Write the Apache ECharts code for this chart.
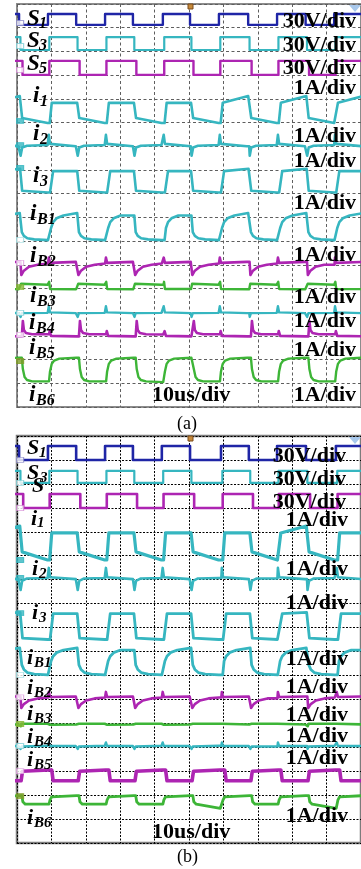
<!DOCTYPE html>
<html>
<head>
<meta charset="utf-8">
<script src="https://cdn.jsdelivr.net/npm/echarts@6/dist/echarts.min.js"></script>
<style>
  html, body { margin: 0; padding: 0; background: #fff; }
  #chart { width: 361px; height: 869px; }
</style>
</head>
<body>
<div id="chart"></div>
<script>
// time in us (10us/div), level in divisions from bottom of each screen (17 div)
const edgesA = [-7.7, 0.6, 9.0, 17.2, 25.6, 33.7, 42.4, 50.3, 58.7, 67.2, 75.6, 83.9, 92.2, 100.5];
const edgesB = [-7.7, 0.6, 9.0, 17.2, 25.6, 33.7, 42.1, 50.3, 59.3, 67.4, 75.6, 84.0, 92.7, 100.8];

const traceNames = ['S1', 'S3', 'S5', 'i1', 'i2', 'i3', 'iB1', 'iB2', 'iB3', 'iB4', 'iB5', 'iB6'];

const BLUE = '#1f25a6', CYAN = '#36b6c0', MAGENTA = '#ad25b2', GREEN = '#3db537';
const colorsA = [BLUE, CYAN, MAGENTA, CYAN, CYAN, CYAN, CYAN, MAGENTA, GREEN, CYAN, MAGENTA, GREEN];
const colorsB = [BLUE, CYAN, MAGENTA, CYAN, CYAN, CYAN, CYAN, MAGENTA, GREEN, CYAN, MAGENTA, GREEN];

// delay of each trace's edges vs S1 (us)
const riseShiftA = [0, 0.4, 0.4, 0.5, 0.1, 0.6, 0.5, 0.1, 0.2, 0.1, 0.3, 0.3];
const fallShiftA = [0, 0.4, 1.0, 0.3, 0.3, 0.3, 0.4, 0.4, 0.3, 0.3, 0.8, 0.8];
const riseShiftB = [0, 0.4, 0.5, 0.5, 0.1, 0.6, 0.5, 0.1, 0.2, 0.1, 1.1, 0.3];
const fallShiftB = [0, 0.4, 1.2, 0.3, 0.3, 0.3, 0.4, 0.4, 0.3, 0.3, 0.6, 0.8];

// [dt after edge, level]: after S rising edge / after S falling edge
const hiA = [
  [[0, 16.58]],
  [[0, 15.6]],
  [[0, 14.6]],
  [[0.6, 12.83], [8, 13.12]],
  [[0.15, 11.48], [0.5, 11.1], [8, 11.0]],
  [[0.9, 9.95], [8, 10.05]],
  [[0.4, 7.55], [1, 7.8], [2, 7.96], [4, 8.08], [8, 8.18]],
  [[0.15, 6.3], [0.5, 6.08], [8, 6.12]],
  [[0.15, 5.28], [0.4, 4.98], [8, 4.97]],
  [[0.15, 4.25], [0.5, 3.99], [8, 3.96]],
  [[0.2, 3.2], [0.6, 3.0], [8, 2.98]],
  [[0.3, 1.5], [0.8, 1.82], [1.5, 1.96], [3, 2.04], [8, 2.08]]
];
const loA = [
  [[0, 16.12]],
  [[0, 15.06]],
  [[0, 14.01]],
  [[0.6, 12.19], [8, 11.98]],
  [[0.15, 10.6], [0.6, 10.95], [2, 11.02], [8, 11.05]],
  [[0.6, 9.12], [8, 9.05]],
  [[0.4, 7.38], [1, 7.22], [2, 7.12], [4, 7.07], [8, 7.04]],
  [[0.25, 5.57], [1, 5.75], [2.5, 5.92], [5, 6.0], [8, 6.05]],
  [[0.3, 5.2], [8, 5.16]],
  [[0.15, 3.8], [0.5, 3.96], [8, 3.97]],
  [[0.3, 3.63], [0.6, 3.25], [1.2, 3.12], [3, 3.07], [8, 3.06]],
  [[0.3, 1.6], [0.8, 1.27], [1.5, 1.14], [3, 1.08], [8, 1.05]]
];
const hiB = [
  [[0, 16.58]],
  [[0, 15.54]],
  [[0, 14.58]],
  [[0.6, 12.95], [8, 13.24]],
  [[0.15, 11.49], [0.5, 11.1], [8, 11.02]],
  [[0.9, 9.58], [8, 9.63]],
  [[0.4, 7.6], [1, 7.8], [2, 7.95], [4, 8.06], [8, 8.15]],
  [[0.15, 6.31], [0.5, 6.1], [8, 6.12]],
  [[0.15, 5.05], [0.4, 4.94], [8, 4.95]],
  [[0.15, 4.2], [0.5, 4.05], [8, 4.05]],
  [[0.4, 2.6], [8, 2.42]],
  [[0.3, 1.8], [0.8, 1.93], [8, 1.98]]
];
const loB = [
  [[0, 16.0]],
  [[0, 15.04]],
  [[0, 13.99]],
  [[0.6, 12.16], [8, 11.82]],
  [[0.15, 10.57], [0.6, 10.95], [2, 11.05], [8, 11.07]],
  [[0.7, 8.56], [8, 8.5]],
  [[0.4, 7.44], [1, 7.25], [2, 7.12], [4, 7.05], [8, 7.02]],
  [[0.25, 5.64], [1, 5.8], [2.5, 5.95], [5, 6.04], [8, 6.08]],
  [[0.2, 4.88], [0.5, 4.98], [8, 4.98]],
  [[0.15, 3.93], [0.5, 4.03], [8, 4.06]],
  [[0.4, 3.0], [8, 3.05]],
  [[0.3, 1.72], [1, 1.62], [8, 1.45]]
];
const widthsA = [2.4, 2.2, 2.4, 2.6, 2.6, 2.6, 2.6, 2.6, 2.4, 2.4, 2.6, 2.4];
const widthsB = [2.6, 2.2, 2.6, 3.2, 2.6, 2.8, 2.8, 2.6, 2.6, 2.4, 3.6, 2.8];

// channel tags at the left edge: level, colour, filled?
const tagLevelsA = [16.2, 15.23, 14.22, 12.07, 11.05, 10.08, 7.05, 6.08, 5.06, 3.97, 3.04, 1.94];
const tagLevelsB = [16.0, 15.04, 13.99, 11.82, 11.07, 9.6, 7.02, 6.08, 4.97, 4.05, 3.0, 1.96];
const tagColors = ['#8c8cc8', '#7fd0d6', '#d68ad6', CYAN, CYAN, CYAN, '#9fdce0', '#e0a0e0', '#86b836', '#7fd0d6', '#e0a0e0', '#7f9e2a'];
const tagFilled = [false, false, false, true, true, true, false, false, true, false, false, true];

const scaleTexts = ['30V/div', '30V/div', '30V/div', '1A/div', '1A/div', '1A/div', '1A/div', '1A/div', '1A/div', '1A/div', '1A/div', '1A/div'];

function buildTrace(edges, hi, lo, riseShift, fallShift) {
  const pts = [];
  for (let k = 0; k < edges.length; k++) {
    const rising = k % 2 === 0;
    const t0 = edges[k] + (rising ? riseShift : fallShift);
    const t1 = k + 1 < edges.length ? edges[k + 1] + (rising ? fallShift : riseShift) : t0 + 9;
    if (pts.length) pts.push([t0, pts[pts.length - 1][1]]);
    for (const [dt, v] of (rising ? hi : lo)) {
      if (t0 + dt >= t1) break;
      pts.push([+(t0 + dt).toFixed(2), v]);
    }
  }
  return pts;
}

const chart = echarts.init(document.getElementById('chart'), null, { renderer: 'canvas' });

const series = [];
function addPanel(gi, edges, hi, lo, rs, fs, colors, widths, tagLevels) {
  traceNames.forEach((name, i) => {
    series.push({
      name: name + (gi ? 'b' : 'a'),
      type: 'line',
      xAxisIndex: gi, yAxisIndex: gi,
      data: buildTrace(edges, hi[i], lo[i], rs[i], fs[i]),
      showSymbol: false,
      lineStyle: { color: colors[i], width: widths[i], join: 'round' },
      animation: false,
      z: 3
    });
  });
  series.push({
    type: 'scatter',
    xAxisIndex: gi, yAxisIndex: gi,
    data: tagLevels.map((v, i) => ({
      value: [0.9, v],
      itemStyle: {
        color: tagFilled[i] ? tagColors[i] : '#fff',
        borderColor: tagColors[i], borderWidth: 1
      }
    })),
    symbol: 'rect',
    symbolSize: [7, 5],
    animation: false,
    z: 5
  });
}
addPanel(0, edgesA, hiA, loA, riseShiftA, fallShiftA, colorsA, widthsA, tagLevelsA);
addPanel(1, edgesB, hiB, loB, riseShiftB, fallShiftB, colorsB, widthsB, tagLevelsB);

const SERIF = '"Liberation Serif", "Times New Roman", serif';
const graphics = [];
function txt(text, x, y, size, opts = {}) {
  const align = opts.align || 'left';
  graphics.push({
    type: 'text',
    z: 100,
    style: {
      text, x, y,
      font: (opts.italic ? 'italic ' : '') + (opts.bold === false ? '' : 'bold ') + size + 'px ' + SERIF,
      fill: '#000',
      align, textAlign: align,
      verticalAlign: 'middle', textVerticalAlign: 'middle'
    }
  });
}
function traceLabel(main, sub, x, y, sx, sy, size) {
  txt(main, x, y, size, { italic: true });
  if (sub) txt(sub, sx, sy, Math.round(size * 0.7), { italic: true });
}

// panel (a) labels
[['S', '1', 27, 19.5, 39, 24], ['S', '3', 27, 41, 39, 46], ['S', '5', 27, 64, 39, 69],
 ['i', '1', 33, 96, 40, 102], ['i', '2', 33, 134, 40, 140], ['i', '3', 33, 176, 40, 182],
 ['i', 'B1', 30, 214, 37, 220], ['i', 'B2', 30, 256, 37, 262], ['i', 'B3', 30, 296, 37, 302],
 ['i', 'B4', 29, 323, 36, 329], ['i', 'B5', 29, 348, 36, 354], ['i', 'B6', 29, 395, 36, 401]
].forEach(l => traceLabel(l[0], l[1], l[2], l[3], l[4], l[5], 23));
[21.5, 45, 68, 88, 136, 161, 203, 255, 297, 321, 350, 395].forEach((y, i) =>
  txt(scaleTexts[i], 356, y, 22, { align: 'right' }));
txt('10us/div', 152, 395, 22);
txt('(a)', 177, 424, 18, { bold: false });

// panel (b) labels
[['S', '1', 27, 448, 39, 453], ['S', '3', 27, 473, 40, 478], ['S', '', 32, 486, 0, 0],
 ['i', '1', 31, 519, 37, 523], ['i', '2', 32, 569, 39, 574], ['i', '3', 32, 613, 39, 618],
 ['i', 'B1', 27, 658, 34, 663], ['i', 'B2', 27, 688, 34, 693], ['i', 'B3', 27, 714, 34, 719],
 ['i', 'B4', 27, 737, 34, 742], ['i', 'B5', 27, 760, 34, 765], ['i', 'B6', 27, 818, 34, 823]
].forEach(l => traceLabel(l[0], l[1], l[2], l[3], l[4], l[5], 22));
[456, 479, 502, 520, 569, 603, 659, 687, 715, 736, 758, 816].forEach((y, i) =>
  txt(scaleTexts[i], i < 3 ? 346 : 348, y, 22, { align: 'right' }));
txt('10us/div', 152, 832, 22);
txt('(b)', 177, 857, 18, { bold: false });

// trigger markers on the top edge of each screen
[[4, 6], [436, 438]].forEach(([top]) => {
  graphics.push({ type: 'rect', z: 90, shape: { x: 188, y: top, width: 5, height: 5 },
    style: { fill: '#c78a3a', stroke: '#7a4a1a', lineWidth: 1 } });
  graphics.push({ type: 'polygon', z: 90, shape: { points: [[349, top + 1], [361, top + 1], [355, top + 8]] },
    style: { fill: '#a8c8ec' } });
});

function gridAxes(gi, dash, color) {
  return {
    x: {
      gridIndex: gi, type: 'value', min: 0, max: 100, interval: 10,
      axisLine: { show: false }, axisTick: { show: false }, axisLabel: { show: false },
      splitLine: { show: true, lineStyle: { type: dash, color, width: 1 } }
    },
    y: {
      gridIndex: gi, type: 'value', min: 0, max: 17, interval: 1,
      axisLine: { show: false }, axisTick: { show: false }, axisLabel: { show: false },
      splitLine: { show: true, lineStyle: { type: dash, color, width: 1 } }
    }
  };
}
const axA = gridAxes(0, [3, 2.5], '#5e5e5e');
const axB = gridAxes(1, [2, 1.5], '#000');

chart.setOption({
  backgroundColor: '#fff',
  animation: false,
  grid: [
    { left: 17, top: 4, width: 344, height: 403, show: true, borderColor: '#8c8c8c', borderWidth: 2, backgroundColor: '#fff' },
    { left: 17, top: 436, width: 344, height: 407, show: true, borderColor: '#7c7c7c', borderWidth: 2.5, backgroundColor: '#fff' }
  ],
  xAxis: [axA.x, axB.x],
  yAxis: [axA.y, axB.y],
  series,
  graphic: { elements: graphics }
});
</script>
</body>
</html>
